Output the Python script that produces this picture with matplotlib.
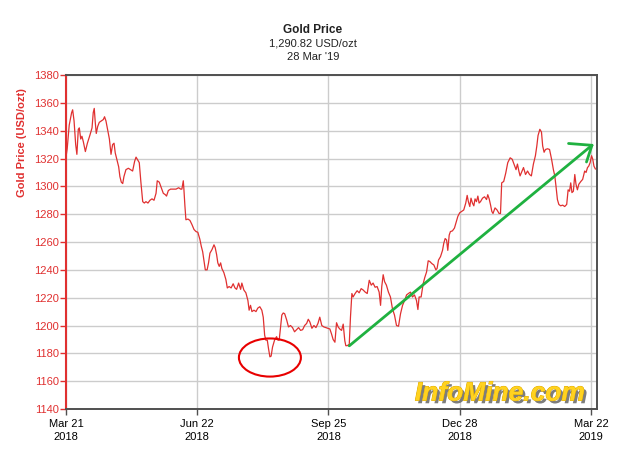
"""Gold price chart, Mar 2018 - Mar 2019, with the InfoMine look."""

import matplotlib
matplotlib.use("Agg")
import matplotlib.patheffects as patheffects
import matplotlib.pyplot as plt
from matplotlib.patches import Ellipse

# trading session (0 = 21 Mar 2018) and closing price in USD/ozt
sessions = [
    0.0, 0.6, 1.6, 2.8, 3.3, 4.0, 4.8, 5.4, 6.1, 6.6, 7.3, 7.9, 8.6, 9.6,
    10.6, 11.9, 12.9, 13.5, 14.0, 14.5, 15.0, 15.7, 16.5, 17.5, 18.5, 19.1,
    19.8, 20.6, 21.5, 22.3, 23.1, 23.8, 24.4, 25.4, 26.1, 26.7, 27.4, 28.1,
    28.7, 29.7, 30.9, 32.0, 33.0, 34.0, 34.7, 35.5, 36.3, 37.1, 38.0, 38.8,
    39.6, 40.6, 41.6, 42.6, 43.6,
    44.6, 45.2, 46.2, 47.2, 48.2, 49.2, 49.8, 50.7, 51.8, 53.1, 54.5, 55.8,
    56.8, 57.4, 58.1, 58.4, 58.9, 59.4, 60.4, 61.4, 62.4, 63.4, 64.4, 65.3,
    66.3, 67.0, 67.7, 68.3, 69.0, 69.9, 70.6, 71.3, 72.3, 73.3, 73.9, 74.6,
    75.2, 75.9, 76.6, 77.2, 78.2, 79.2, 79.9, 80.8, 81.8, 82.8, 83.7, 84.5,
    85.5, 86.5,
    87.1, 88.1, 89.1, 90.1, 90.7, 91.4, 92.1, 93.1, 94.1, 95.0, 96.0, 97.0,
    97.7, 98.4, 99.0, 99.7, 100.3, 101.0, 101.6, 102.3, 103.3, 104.3, 105.0,
    105.6, 106.3, 106.9, 107.6, 108.3, 109.3, 110.2, 111.2, 112.2, 113.2,
    114.2, 115.2, 116.2, 117.2, 118.2, 119.2, 120.0, 120.8, 121.8, 122.8,
    123.8, 124.8, 125.7, 126.7, 127.7, 128.7, 129.7,
    130.7, 131.5, 132.3, 133.2, 134.0, 134.8, 135.6, 136.5, 137.3, 138.1,
    138.6, 139.3, 140.3, 140.9, 141.6, 142.2, 143.2, 144.2, 145.2, 146.2,
    147.2, 148.2, 149.2, 150.2, 151.2, 152.1, 153.1, 154.1, 155.1, 155.8,
    156.4, 157.1, 157.8, 158.7, 159.7, 160.7, 161.7, 162.7, 163.7, 164.7,
    165.7, 166.7, 167.7, 168.7, 169.6, 170.6, 171.6, 172.6, 173.6, 174.3,
    174.9, 175.9, 176.9, 177.7,
    178.6, 179.4, 180.2, 181.2, 182.2, 183.2, 183.8, 184.5, 185.5, 186.5,
    187.1, 187.8, 188.5, 189.1, 189.8, 190.4, 191.4, 192.4, 193.1, 194.1,
    195.0, 196.0, 197.0, 198.0, 198.7, 199.3, 200.0, 200.6, 201.3, 202.0,
    202.6, 203.3, 204.0, 204.6, 205.3, 206.3, 207.3, 208.3, 208.9, 209.6,
    210.3, 210.9, 211.5, 212.5, 213.5, 214.5, 215.2, 215.8, 216.8, 217.8,
    218.8, 220.0,
    221.0, 221.9, 222.9, 223.6, 224.3, 224.9, 225.6, 226.6, 227.6, 228.6,
    229.6, 230.5, 231.5, 232.5, 233.2, 233.8, 234.7, 235.5, 236.1, 236.8,
    237.5, 238.5, 239.5, 240.5, 241.4, 242.1, 242.7, 243.4, 244.1, 245.0,
    246.0, 247.0, 248.0, 248.7, 249.4, 250.0, 250.6, 251.3, 252.0, 252.6,
    253.3, 254.0, 255.0, 255.9, 256.9, 257.6, 258.3, 258.9, 259.6, 260.3,
    260.9, 261.5, 262.2,
]
prices = [
    1321, 1327, 1344, 1353, 1355, 1347, 1330, 1323, 1341, 1342, 1334, 1336,
    1332, 1325, 1331, 1337, 1342, 1353, 1356, 1346, 1338, 1343, 1346, 1347,
    1348, 1350, 1347, 1341, 1334, 1323, 1330, 1331, 1324, 1318, 1314, 1307,
    1303, 1302, 1307, 1312, 1313, 1312, 1311, 1318, 1321, 1319, 1317, 1303,
    1289, 1288, 1289, 1288, 1290, 1291, 1290,
    1295, 1304, 1303, 1299, 1295, 1294, 1293, 1297, 1298, 1298, 1298, 1299,
    1298, 1298, 1304, 1298, 1286, 1276, 1276.5, 1275.5, 1272.5, 1269,
    1267.5, 1267, 1262, 1257, 1253, 1247, 1240, 1240, 1245, 1252, 1254.5,
    1258, 1256, 1251, 1245, 1242.5, 1245, 1241, 1238, 1233, 1227, 1228,
    1227, 1230, 1227, 1226, 1230.5, 1226,
    1230.5, 1225.5, 1223.5, 1218, 1211, 1214.5, 1210, 1211, 1210, 1212.5,
    1213.5, 1211, 1206, 1193, 1189.5, 1189.5, 1183.5, 1177.5, 1178, 1184.5,
    1189.5, 1192, 1189.5, 1189.5, 1199, 1207.5, 1209, 1208.5, 1204, 1199,
    1200, 1198.5, 1195.5, 1197, 1198.5, 1196.5, 1197, 1200, 1201.5, 1204.5,
    1202.5, 1198, 1200, 1198.5, 1201.5, 1206, 1200, 1199, 1198.5, 1198,
    1197.5, 1194, 1190, 1188, 1202, 1199, 1197.5, 1196.5, 1201, 1189,
    1185.5, 1185.5, 1186.5, 1206, 1223, 1220.5, 1223, 1225, 1223.5, 1226.5,
    1225.5, 1224, 1223, 1232.5, 1229, 1230.5, 1227.5, 1228, 1224, 1214.5,
    1228, 1236.5, 1231.5, 1229, 1224, 1220.5, 1212, 1207.5, 1200, 1199.5,
    1208.5, 1214.5, 1218, 1222, 1223, 1224, 1220.5, 1222, 1218, 1211.5,
    1220.5, 1220.5, 1230, 1234.5,
    1238.5, 1246.5, 1246, 1244.5, 1243.5, 1240, 1241, 1247, 1249.5, 1254,
    1259, 1262.5, 1261.5, 1254, 1265, 1267.5, 1268, 1270, 1273.5, 1278.5,
    1281, 1282, 1283, 1288, 1293.5, 1289, 1285.5, 1291.5, 1288, 1286,
    1291, 1289, 1293, 1288, 1289, 1291.5, 1292.5, 1290.5, 1294, 1291,
    1286.5, 1282, 1280.5, 1284.5, 1283, 1280.5, 1280.5, 1302.5, 1303.5,
    1309.5, 1317, 1320.5,
    1319.5, 1316, 1312, 1316, 1311, 1307.5, 1310, 1313.5, 1308.5, 1311,
    1308.5, 1307.5, 1316, 1322, 1329, 1336.5, 1341, 1339, 1329, 1324.5,
    1326.5, 1327, 1326.5, 1319.5, 1312, 1307.5, 1300, 1290.5, 1287, 1286,
    1286.5, 1285.5, 1287, 1297.5, 1296.5, 1302.5, 1295.5, 1296.5, 1308.5,
    1301.5, 1297.5, 1301.5, 1303.5, 1305, 1311, 1310, 1313.5, 1314.5, 1317,
    1322, 1319.5, 1314.5, 1312.5,
]

tick_sessions = [0, 65, 130, 195, 260]
tick_labels = ["Mar 21\n2018", "Jun 22\n2018", "Sep 25\n2018",
               "Dec 28\n2018", "Mar 22\n2019"]
price_ticks = list(range(1140, 1381, 20))

# hand-drawn annotations
dip_center = (101.0, 1177.0)
dip_size = (30.7, 27.4)
trend_start = (140.3, 1185.4)
trend_end = (260.5, 1329.5)
arrow_barbs = [(248.9, 1330.8), (257.8, 1317.5)]

RED = "#e03030"
GREEN = "#1fb140"
FRAME = "#505050"

plt.rcParams["font.family"] = ["Liberation Sans", "DejaVu Sans"]

figure = plt.figure(figsize=(6.4, 4.63), dpi=100)
axes = figure.add_axes([0.1031, 0.1166, 0.8297, 0.7214])

axes.plot(sessions, prices, color=RED, linewidth=0.9, zorder=3)

axes.set_xlim(0, 263)
axes.set_ylim(1140, 1380)
axes.set_xticks(tick_sessions)
axes.set_xticklabels(tick_labels, fontsize=8, linespacing=1.45)
axes.set_yticks(price_ticks)
axes.tick_params(axis="x", colors=FRAME, labelcolor="black", length=4,
                 width=1, pad=3)
axes.tick_params(axis="y", colors=RED, labelcolor=RED, length=4, width=1,
                 labelsize=8, pad=1)
axes.grid(True, color="#cccccc", linewidth=1.0, zorder=0)
axes.set_axisbelow(True)

for side in ("top", "right", "bottom"):
    axes.spines[side].set_color(FRAME)
    axes.spines[side].set_linewidth(1.4)
axes.spines["left"].set_color(RED)
axes.spines["left"].set_linewidth(1.5)

# red circle around the summer low
axes.add_patch(Ellipse(dip_center, dip_size[0], dip_size[1], fill=False,
                       edgecolor="#e80000", linewidth=1.5, zorder=4))

# green trend arrow
axes.plot([trend_start[0], trend_end[0]], [trend_start[1], trend_end[1]],
          color=GREEN, linewidth=2.0, solid_capstyle="round", zorder=4)
for barb in arrow_barbs:
    axes.plot([barb[0], trend_end[0]], [barb[1], trend_end[1]],
              color=GREEN, linewidth=2.0, solid_capstyle="round", zorder=4)

figure.text(0.489, 0.935, "Gold Price", ha="center", va="center",
            fontsize=8.5, fontweight="bold", color="#222222")
figure.text(0.489, 0.906, "1,290.82 USD/ozt", ha="center", va="center",
            fontsize=8, color="#222222")
figure.text(0.489, 0.877, "28 Mar '19", ha="center", va="center",
            fontsize=8, color="#222222")
figure.text(0.034, 0.693, "Gold Price (USD/ozt)", rotation=90, ha="center",
            va="center", fontsize=8, fontweight="bold", color=RED)

figure.text(0.914, 0.135, "InfoMine.com", ha="right", va="baseline",
            fontsize=19, fontweight="bold", fontstyle="italic",
            color="#ffd21f",
            path_effects=[
                patheffects.withSimplePatchShadow(offset=(2, -2),
                                                  shadow_rgbFace="#666666",
                                                  alpha=0.85),
                patheffects.withStroke(linewidth=0.6, foreground="#d9a400"),
            ])

figure.savefig("out.png", dpi=100)
